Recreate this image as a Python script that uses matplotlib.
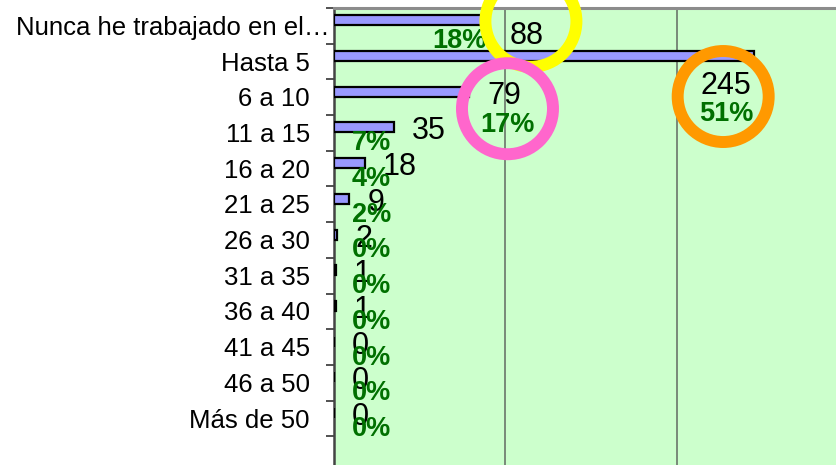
import matplotlib
matplotlib.use("Agg")
import matplotlib.pyplot as plt
from matplotlib.patches import Circle
from matplotlib.transforms import blended_transform_factory
import numpy as np

plt.rcParams['font.family'] = ['Liberation Sans', 'DejaVu Sans']

# ---- data ----
categories = ["Nunca he trabajado en el…", "Hasta 5", "6 a 10", "11 a 15", "16 a 20",
              "21 a 25", "26 a 30", "31 a 35", "36 a 40", "41 a 45", "46 a 50", "Más de 50"]
counts = [88, 245, 79, 35, 18, 9, 2, 1, 1, 0, 0, 0]
percent_labels = ["18%", "51%", "17%", "7%", "4%", "2%", "0%", "0%", "0%", "0%", "0%", "0%"]
highlighted = {0: "#FFFF00", 2: "#FF66CC", 1: "#FF9900"}   # category index -> ring colour

# ---- style / layout ----
W, H = 837, 465
fig = plt.figure(figsize=(W / 100, H / 100), dpi=100)
ax_left, ax_top, band_px, nbands = 334, 8, 35.7, 13
ax_bottom = ax_top + band_px * nbands
ax = fig.add_axes([ax_left / W, (H - ax_bottom) / H, (W - ax_left) / W, (ax_bottom - ax_top) / H])
ax.set_facecolor("#CCFFCC")

bar_off, bar_h, pct_off = -0.155, 0.28, 0.18
y = np.arange(len(categories))
ax.barh(y + bar_off, counts, height=bar_h, color="#9999FF", edgecolor="black",
        linewidth=1.6, zorder=3)

ax.set_xlim(0, (W - ax_left) / 1.715)
ax.set_ylim(nbands - 0.5, -0.5)
ax.set_xticks([100, 200])
ax.xaxis.grid(True, color="#6a756a", linewidth=1.2, zorder=1)
ax.tick_params(axis="x", length=0, labelbottom=False)
ax.set_yticks(np.arange(-0.5, len(categories)))
ax.set_yticklabels([])
ax.tick_params(axis="y", length=6, width=1.2, color="#333333", direction="out")
for s in ["right", "bottom"]:
    ax.spines[s].set_visible(False)
ax.spines["top"].set_color("#8c8c8c")
ax.spines["top"].set_linewidth(2.2)
ax.spines["left"].set_color("#444444")
ax.spines["left"].set_linewidth(1.8)

# category labels
blend = blended_transform_factory(ax.transAxes, ax.transData)
cat_dx = {0: -4}
for i, c in enumerate(categories):
    ax.annotate(c, xy=(0, i), xycoords=blend, xytext=(cat_dx.get(i, -24), -2),
                textcoords="offset pixels", ha="right", va="center",
                fontsize=18.5, color="black", annotation_clip=False)

# value labels
count_custom = {0: (42, -16), 1: (-28, -30)}
pct_custom = {0: (125, -9), 1: (392, -46), 2: (173, -21)}
for i, (v, p) in enumerate(zip(counts, percent_labels)):
    if i in count_custom:
        ax.annotate(str(v), xy=(v, i + bar_off), xytext=count_custom[i],
                    textcoords="offset pixels", ha="center", va="center",
                    fontsize=22, color="black", zorder=5)
    else:
        ax.annotate(str(v), xy=(v, i + bar_off), xytext=(18, -4),
                    textcoords="offset pixels", ha="left", va="center",
                    fontsize=22, color="black", zorder=5)
    if i in pct_custom:
        ax.annotate(p, xy=(0, i + pct_off), xytext=pct_custom[i],
                    textcoords="offset pixels", ha="center", va="center",
                    fontsize=19.5, fontweight="bold", color="#007000", zorder=6)
    else:
        ax.annotate(p, xy=(0, i + pct_off), xytext=(18, -4),
                    textcoords="offset pixels", ha="left", va="center",
                    fontsize=19.5, fontweight="bold", color="#007000", zorder=6)

# highlight rings (anchored to bar ends, offsets in pixels)
ring_off = {0: (46, -1), 1: (-31, -40.5), 2: (38, -17)}
fig.canvas.draw()
for z, i in enumerate([0, 2, 1]):
    px, py = ax.transData.transform((counts[i], i + bar_off))
    dx, dy = ring_off[i]
    circ = Circle((px + dx, py + dy), 45.5, transform=None, fill=False,
                  edgecolor=highlighted[i], linewidth=8.6, zorder=10 + z)
    fig.add_artist(circ)

fig.savefig("out.png", dpi=100)
